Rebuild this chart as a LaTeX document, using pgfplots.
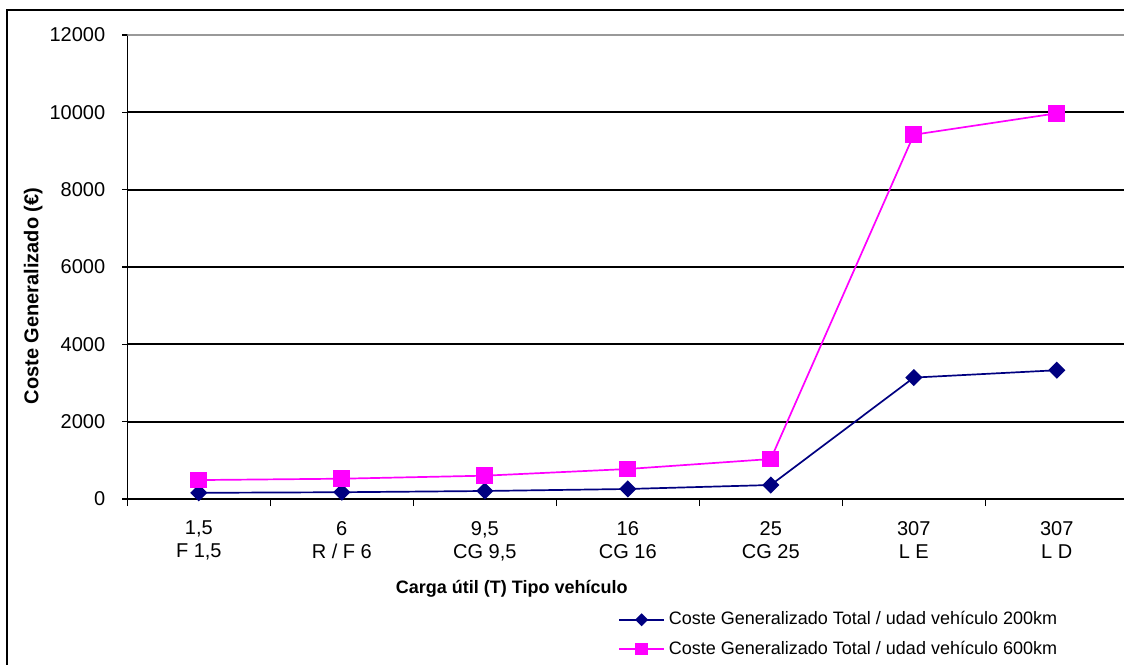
\documentclass[border=0pt]{standalone}
\usepackage{fontspec}
\setmainfont{Liberation Sans}
\usepackage{pgfplots}
\pgfplotsset{compat=1.18}
\definecolor{navyb}{RGB}{0,0,128}
\definecolor{pinkm}{RGB}{255,0,255}
\begin{document}
\begin{tikzpicture}
\useasboundingbox (0,0) rectangle (562pt,332pt);
\draw[line width=0.6pt] (3.5pt,-10pt) rectangle (580pt,327pt);
\begin{axis}[
  at={(63.65pt,82.5pt)}, anchor=south west,
  scale only axis, width=500.5pt, height=232pt,
  xmin=-0.5, xmax=6.5, ymin=0, ymax=12000,
  ytick={0,2000,...,12000},
  xtick={0,...,6},
  xticklabels={{1,5\\F 1,5},{6\\R / F 6},{9,5\\CG 9,5},{16\\CG 16},{25\\CG 25},{307\\L E},{307\\L D}},
  xticklabel style={align=center, font=\fontsize{10}{11.5}\selectfont, yshift=-5pt},
  yticklabel style={font=\fontsize{10}{12}\selectfont, xshift=-5pt},
  major x tick style={draw=none},
  minor xtick={-0.5,0.5,...,6.5},
  tick align=outside, tick pos=left,
  axis lines*=left,
  ymajorgrids, grid style={black, line width=0.85pt},
  y axis line style={line width=0.75pt},
  x axis line style={line width=0.95pt},
  tick style={black, line width=0.75pt},
  major tick length=2.5pt, minor tick length=3.5pt,
  /pgf/number format/assume math mode=true,
  scaled y ticks=false,
  /pgf/number format/set thousands separator={},
  ylabel={\bfseries Coste Generalizado (€)},
  ylabel style={at={(axis description cs:-0.094,0.4375)}, anchor=center, font=\fontsize{10}{12}\selectfont},
  xlabel={\bfseries Carga útil (T) Tipo vehículo},
  xlabel style={at={(axis description cs:0.384,-0.1935)}, anchor=center, font=\fontsize{9}{11}\selectfont},
  legend style={draw=none, fill=none, at={(axis description cs:0.490,-0.292)}, anchor=west, inner sep=0pt,
    font=\fontsize{9}{11}\selectfont, row sep=2.6pt},
  legend cell align=left,
  legend image code/.code={\draw[mark repeat=2,mark phase=2,#1, every mark/.append style={scale=0.72}] plot coordinates {(0pt,0pt) (11.25pt,0pt) (22.5pt,0pt)};},
]
\addplot[navyb, line width=0.85pt, mark=square*, mark size=2.6pt, mark options={rotate=45, fill=navyb, draw=navyb}]
  coordinates {(0,160)(1,175)(2,207)(3,259)(4,362)(5,3140)(6,3330)};
\addlegendentry{Coste Generalizado Total / udad vehículo 200km}
\addplot[pinkm, line width=0.85pt, mark=square*, mark size=3.75pt, mark options={fill=pinkm, draw=pinkm}]
  coordinates {(0,490)(1,525)(2,603)(3,776)(4,1034)(5,9421)(6,9975)};
\addlegendentry{Coste Generalizado Total / udad vehículo 600km}
\draw[gray!80, line width=0.85pt] (rel axis cs:0,1) -- (rel axis cs:1,1);
\end{axis}
\end{tikzpicture}
\end{document}
